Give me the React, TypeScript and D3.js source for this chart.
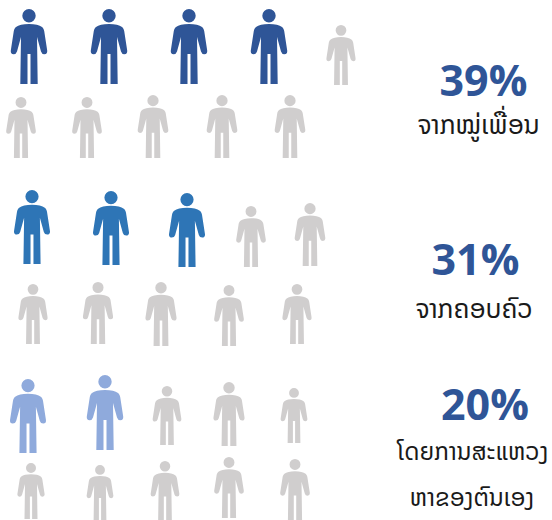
import React from "react";
import * as d3 from "d3";

const darkCx = [29, 109, 189, 269, 341, 21, 87, 153, 222, 290];
const darkTop = [9, 9, 9, 9, 25, 97, 97, 95, 95, 95];
const darkBottom = [84, 84, 84, 84, 85, 158, 158, 158, 158, 158];
const midCx = [32, 111, 187, 251, 310, 33, 98, 161, 229, 297];
const midTop = [190, 191, 193, 206, 203, 284, 282, 282, 285, 284];
const midBottom = [264, 265, 267, 267, 266, 344, 344, 346, 346, 344];
const lightCx = [28, 105, 167, 229, 294, 31, 100, 165, 229, 295];
const lightTop = [379, 375, 386, 382, 388, 463, 465, 461, 457, 459];
const lightBottom = [453, 450, 445, 446, 443, 519, 520, 520, 518, 520];

const groups = [
  { cx: darkCx, top: darkTop, bottom: darkBottom, filled: 4, color: "#2f5597" },
  { cx: midCx, top: midTop, bottom: midBottom, filled: 3, color: "#2e75b6" },
  { cx: lightCx, top: lightTop, bottom: lightBottom, filled: 2, color: "#8faadc" },
];
const grey = "#d0cece";

const percents = ["39%", "31%", "20%"];
const labelTexts = ["ຈາກໝູ່ເພື່ອນ", "ຈາກຄອບຄົວ", "ໂດຍການສະແຫວງ", "ຫາຂອງຕົນເອງ"];

function personPath(): string {
  const p = d3.path();
  p.moveTo(0, 15);
  p.bezierCurveTo(6, 15, 10.5, 16.2, 13, 18);
  p.bezierCurveTo(14.2, 19, 14.8, 20.2, 15.2, 22);
  p.lineTo(18.2, 41.5);
  p.quadraticCurveTo(18.6, 45, 15.4, 45.2);
  p.quadraticCurveTo(12.8, 45.2, 12, 42.5);
  p.lineTo(8, 28);
  p.lineTo(8.7, 75);
  p.lineTo(1.5, 75);
  p.lineTo(1.5, 45);
  p.lineTo(-1.5, 45);
  p.lineTo(-1.5, 75);
  p.lineTo(-8.7, 75);
  p.lineTo(-8, 28);
  p.lineTo(-12, 42.5);
  p.quadraticCurveTo(-12.8, 45.2, -15.4, 45.2);
  p.quadraticCurveTo(-18.6, 45, -18.2, 41.5);
  p.lineTo(-15.2, 22);
  p.bezierCurveTo(-14.8, 20.2, -14.2, 19, -13, 18);
  p.bezierCurveTo(-10.5, 16.2, -6, 15, 0, 15);
  p.closePath();
  p.moveTo(6.7, 6.7);
  p.arc(0, 6.7, 6.7, 0, Math.PI * 2);
  p.closePath();
  return p.toString();
}

export default function App() {
  const d = personPath();
  const pctPos = [
    { x: 483.5, y: 96 },
    { x: 475.5, y: 275 },
    { x: 485, y: 420 },
  ];
  const labelPos = [
    { x: 478.5, y: 134, size: 26 },
    { x: 474, y: 318, size: 26 },
    { x: 473, y: 460, size: 24 },
    { x: 472, y: 506, size: 24 },
  ];
  return (
    <svg width={552} height={520} style={{ position: "absolute", left: 0, top: 0, background: "#fff" }}>
      {groups.map((g, gi) =>
        g.cx.map((cx, i) => {
          const s = d3.scaleLinear().domain([0, 75]).range([g.top[i], g.bottom[i]]);
          const k = (s(75) - s(0)) / 75;
          return (
            <path
              key={`${gi}-${i}`}
              d={d}
              fill={i < g.filled ? g.color : grey}
              transform={`translate(${cx},${s(0)}) scale(${k})`}
            />
          );
        })
      )}
      {percents.map((t, i) => (
        <text
          key={t}
          x={pctPos[i].x}
          y={pctPos[i].y}
          textAnchor="middle"
          fontFamily="'Open Sans', sans-serif"
          fontWeight={700}
          fontSize={43}
          fill="#2f5597"
        >
          {t}
        </text>
      ))}
      {labelTexts.map((t, i) => (
        <text
          key={t}
          x={labelPos[i].x}
          y={labelPos[i].y}
          textAnchor="middle"
          fontFamily="'Noto Sans Lao', 'Noto Serif Lao', 'Noto Sans', 'DejaVu Sans', sans-serif"
          fontSize={labelPos[i].size}
          fill="#1a1a1a"
        >
          {t}
        </text>
      ))}
    </svg>
  );
}
